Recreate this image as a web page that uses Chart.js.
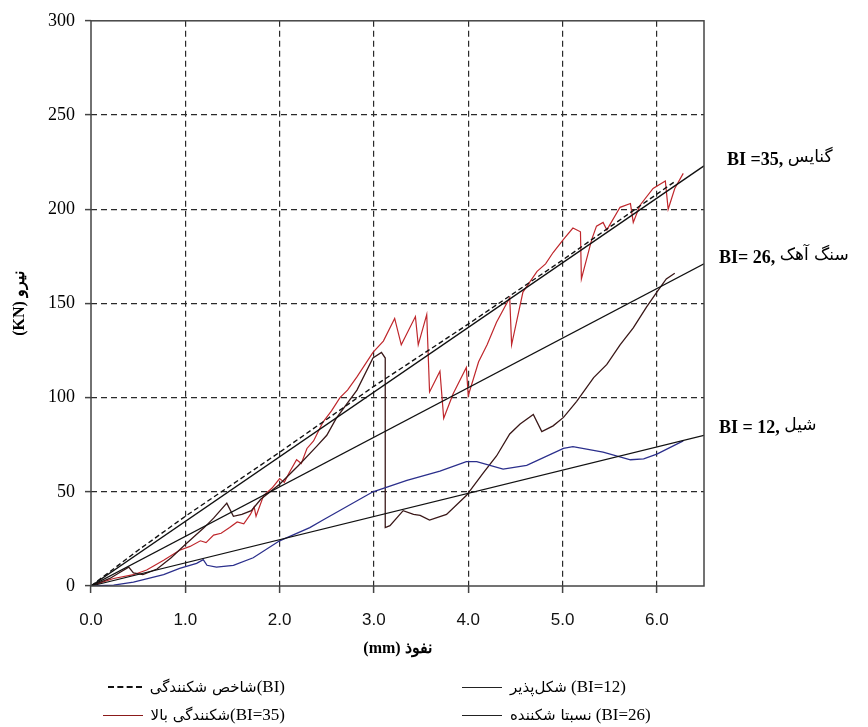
<!DOCTYPE html>
<html>
<head>
<meta charset="utf-8">
<script src="https://cdn.jsdelivr.net/npm/chart.js@4.4.1/dist/chart.umd.min.js"></script>
<style>
html, body { margin: 0; padding: 0; background: #fff; }
#wrap { position: relative; width: 868px; height: 727px; }
#chart { position: absolute; left: 0; top: 0; }
.leg { position: absolute; display: flex; align-items: center; white-space: nowrap;
       font-family: "Liberation Serif", serif; font-size: 17px; color: #000; }
.leg .fa { font-family: "DejaVu Sans", sans-serif; font-size: 15px; }
.sym { display: inline-block; width: 40px; height: 0; margin-right: 8px; }
</style>
</head>
<body>
<div id="wrap">
  <canvas id="chart" width="868" height="727"></canvas>
  <div class="leg" style="right:583px; top:677px;">
    <span class="sym" style="border-top:2px dashed #111; width:34px;"></span><span class="fa">شاخص شکنندگی</span><span>(BI)</span>
  </div>
  <div class="leg" style="right:583px; top:705px;">
    <span class="sym" style="border-top:1.5px solid #8b1a1a;"></span><span class="fa">شکنندگی بالا</span><span>(BI=35)</span>
  </div>
  <div class="leg" style="left:462px; top:677px;">
    <span class="sym" style="border-top:1.5px solid #222;"></span><span class="fa">شکل‌پذیر</span>&nbsp;<span>(BI=12)</span>
  </div>
  <div class="leg" style="left:462px; top:705px;">
    <span class="sym" style="border-top:1.5px solid #222;"></span><span class="fa">نسبتا شکننده</span>&nbsp;<span>(BI=26)</span>
  </div>
</div>
<script>
// penetration (mm) and force (KN)

// brittleness index reference lines
const bi35X = [0, 6.5];
const bi35Y = [0, 223];
const bi26X = [0, 6.5];
const bi26Y = [0, 171];
const bi12X = [0, 6.5];
const bi12Y = [0, 80];

// dashed brittleness index line
const indexX = [0, 0.5, 1.0, 2.0, 3.0, 4.0, 5.0, 6.2];
const indexY = [0, 19, 37, 71, 106, 139, 173, 215];

// gneiss, high brittleness (red)
const gneissX = [0, 0.24, 0.45, 0.59, 0.77, 0.94, 1.05, 1.16, 1.22, 1.30, 1.38, 1.47, 1.55, 1.62, 1.69, 1.73, 1.75, 1.83, 1.92, 2.0, 2.05, 2.1, 2.18, 2.23, 2.29, 2.36, 2.46, 2.55, 2.64, 2.72, 2.82, 2.99, 3.10, 3.22, 3.29, 3.44, 3.47, 3.56, 3.59, 3.70, 3.74, 3.84, 3.98, 4.0, 4.11, 4.20, 4.30, 4.44, 4.46, 4.58, 4.73, 4.82, 4.90, 5.01, 5.11, 5.19, 5.20, 5.31, 5.36, 5.43, 5.47, 5.61, 5.72, 5.75, 5.82, 5.96, 6.09, 6.12, 6.19, 6.28];
const gneissY = [0, 4, 6, 8.5, 13.7, 19, 21, 24, 23, 27, 28, 31, 34, 33, 38, 42, 37, 48, 52, 57, 55, 60, 67, 65, 73, 77, 87, 93, 100, 104, 111, 124, 130, 142, 128, 143, 128, 144, 103, 114, 89, 102, 116, 101, 119, 128, 140, 153, 128, 156, 167, 171, 177, 184, 190, 188, 163, 184, 191, 193, 189, 201, 203, 193, 202, 211, 215, 200, 211, 219];

// limestone, moderately brittle (dark brown)
const limeX = [0, 0.2, 0.3, 0.4, 0.45, 0.55, 0.7, 0.85, 1.0, 1.2, 1.3, 1.44, 1.51, 1.6, 1.7, 1.8, 2.0, 2.2, 2.39, 2.5, 2.6, 2.82, 2.99, 3.08, 3.12, 3.12, 3.17, 3.31, 3.42, 3.49, 3.59, 3.77, 3.98, 4.16, 4.30, 4.44, 4.55, 4.69, 4.78, 4.9, 5.01, 5.15, 5.33, 5.47, 5.61, 5.75, 5.89, 6.0, 6.10, 6.19];
const limeY = [0, 4, 7, 10, 7, 6, 9, 15, 22, 31, 36, 44, 37, 38, 40, 46, 54, 64, 74, 80, 89, 104, 121, 124, 121, 31, 32, 40, 38, 37.5, 35, 38, 48, 60, 69, 80.7, 86, 91, 82, 85, 89.5, 98, 110.6, 117.6, 128, 137, 148, 156, 163, 166];

// shale, ductile (blue)
const shaleX = [0, 0.24, 0.45, 0.77, 0.94, 1.12, 1.19, 1.23, 1.33, 1.51, 1.72, 2.0, 2.32, 2.46, 2.99, 3.35, 3.70, 3.98, 4.09, 4.37, 4.62, 5.01, 5.11, 5.43, 5.72, 5.86, 6.0, 6.28];
const shaleY = [0, 0.5, 2, 6, 9.3, 12, 14, 11, 10, 11, 15, 24, 31, 35, 50, 56, 61, 66, 66, 62, 64, 73, 74, 71, 67, 67.5, 70, 77];

// labels at the right end of the reference lines
const endLabelBI = ["BI =35, ", "BI= 26, ", "BI = 12, "];
const endLabelRock = ["گنایس", "سنگ آهک", "شیل"];
const endLabelY = [160, 258, 428];

function pts(xs, ys) {
    return xs.map((x, i) => ({ x: x, y: ys[i] }));
}

function lineSet(xs, ys, color, width, dash) {
    return {
        data: pts(xs, ys),
        borderColor: color,
        borderWidth: width,
        borderDash: dash || [],
        pointRadius: 0,
        fill: false,
        tension: 0
    };
}

// frame around the plot and the labels on the right
const framePlugin = {
    id: "frame",
    afterDatasetsDraw(chart) {
        const a = chart.chartArea;
        const ctx = chart.ctx;
        ctx.save();
        ctx.strokeStyle = "#444";
        ctx.lineWidth = 1.5;
        ctx.strokeRect(a.left, a.top, a.right - a.left, a.bottom - a.top);
        ctx.fillStyle = "#000";
        ctx.textBaseline = "middle";
        ctx.direction = "ltr";
        endLabelBI.forEach((t, i) => {
            const x0 = i === 0 ? 727 : 719;
            ctx.font = "bold 18px 'Liberation Serif', serif";
            ctx.fillText(t, x0, endLabelY[i]);
            const w = ctx.measureText(t).width;
            ctx.font = "17px 'DejaVu Sans', sans-serif";
            ctx.fillText(endLabelRock[i], x0 + w, endLabelY[i] - 2);
        });
        ctx.restore();
    }
};

const gridColor = (ctx, lastValue) => {
    const v = ctx.tick ? ctx.tick.value : null;
    return (v === 0 || v === lastValue) ? "rgba(0,0,0,0)" : "#2a2a2a";
};

new Chart(document.getElementById("chart").getContext("2d"), {
    type: "line",
    data: {
        datasets: [
            lineSet(bi35X, bi35Y, "#111", 1.4),
            lineSet(bi26X, bi26Y, "#111", 1.2),
            lineSet(bi12X, bi12Y, "#111", 1.2),
            lineSet(indexX, indexY, "#111", 1.4, [5, 3]),
            lineSet(shaleX, shaleY, "#2b2f8c", 1.3),
            lineSet(limeX, limeY, "#3a1818", 1.3),
            lineSet(gneissX, gneissY, "#bf272c", 1.2)
        ]
    },
    options: {
        responsive: false,
        animation: false,
        layout: { padding: { left: 0, top: 18, right: 164, bottom: 61 } },
        plugins: { legend: { display: false }, tooltip: { enabled: false } },
        scales: {
            x: {
                type: "linear",
                min: 0,
                max: 6.5,
                afterFit(s) { s.height = 80; },
                ticks: {
                    stepSize: 1,
                    includeBounds: false,
                    padding: 17,
                    color: "#111",
                    font: { family: "Liberation Sans", size: 17 },
                    callback: v => v.toFixed(1)
                },
                grid: {
                    color: ctx => gridColor(ctx, 6.5),
                    lineWidth: 1.2,
                    tickLength: 7,
                    tickColor: "#444",
                    tickWidth: 1.5
                },
                border: { display: false, dash: [6, 4] },
                title: {
                    display: true,
                    text: "(mm) نفوذ",
                    color: "#000",
                    font: { family: "Liberation Serif", size: 16, weight: "bold" },
                    padding: { top: 4, bottom: 8 }
                }
            },
            y: {
                min: 0,
                max: 300,
                afterFit(s) { s.width = 91; },
                ticks: {
                    stepSize: 50,
                    padding: 10,
                    color: "#000",
                    font: { family: "Liberation Serif", size: 18 }
                },
                grid: {
                    color: ctx => gridColor(ctx, 300),
                    lineWidth: 1.2,
                    tickLength: 6,
                    tickColor: "#444",
                    tickWidth: 1.5
                },
                border: { display: false, dash: [6, 4] },
                title: {
                    display: true,
                    text: "(KN) نیرو",
                    color: "#000",
                    font: { family: "Liberation Serif", size: 16, weight: "bold" },
                    padding: { top: 10, bottom: 0 }
                }
            }
        }
    },
    plugins: [framePlugin]
});
</script>
</body>
</html>
